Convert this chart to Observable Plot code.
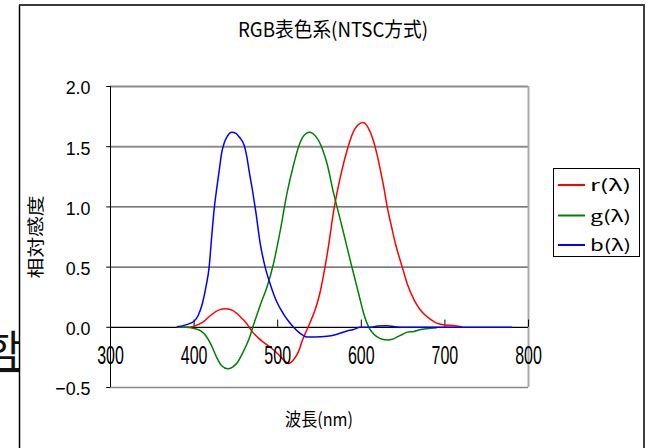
<!DOCTYPE html>
<html><head><meta charset="utf-8">
<script src="https://cdn.jsdelivr.net/npm/d3@7"></script>
<script src="https://cdn.jsdelivr.net/npm/@observablehq/plot@0.6"></script>
<style>
html,body{margin:0;padding:0;background:#fff;}
#wrap{position:relative;width:649px;height:448px;overflow:hidden;background:#fff;}
#chart{position:absolute;left:0;top:0;}
#over{position:absolute;left:0;top:0;}
</style></head><body>
<div id="wrap"><div id="chart"></div><svg id="over" width="649" height="448" xmlns="http://www.w3.org/2000/svg"></svg></div>
<script>
const title = "RGB表色系(NTSC方式)";
const xLabel = "波長(nm)";
const yLabel = "相対感度";
const sideText = "학";
const xTicks = [300, 400, 500, 600, 700, 800];
const yTicks = [-0.5, 0, 0.5, 1.0, 1.5, 2.0];
const seriesNames = ["r(λ)", "g(λ)", "b(λ)"];
const seriesColors = ["#ff0000", "#008000", "#0000ff"];

const rLambda = [380,390,400,410,420,430,438,446,455,463,470,477,484,492,500,507,513,519,525,530,535,540,545,550,555,560,567,575,583,589,596,602,608,614,619,623,627,631,636,641,649,655,663,670,675,682,690,700,710,720];
const rValue  = [0,0,0.01,0.04,0.10,0.145,0.155,0.14,0.09,0.03,-0.04,-0.09,-0.13,-0.17,-0.22,-0.27,-0.30,-0.27,-0.20,-0.10,-0.02,0.06,0.15,0.27,0.44,0.64,0.97,1.25,1.47,1.60,1.68,1.70,1.66,1.56,1.43,1.30,1.16,1.00,0.84,0.69,0.50,0.36,0.23,0.15,0.11,0.07,0.035,0.02,0.015,0.005];

const gLambda = [380,390,400,408,414,420,427,433,440,446,452,459,466,472,476,481,487,495,503,511,519,525,531,538,545,553,559,567,575,581,587,595,600,603,609,614,619,625,631,637,643,649,655,663,670,680,690];
const gValue  = [0,0,-0.01,-0.03,-0.07,-0.14,-0.25,-0.32,-0.345,-0.33,-0.29,-0.20,-0.09,0.04,0.12,0.22,0.33,0.53,0.80,1.11,1.35,1.50,1.59,1.62,1.59,1.49,1.36,1.11,0.89,0.72,0.55,0.33,0.19,0.11,0.0,-0.05,-0.08,-0.10,-0.105,-0.10,-0.08,-0.06,-0.04,-0.035,-0.02,-0.01,-0.003];

const bLambda = [380,390,400,405,410,414,418,421,424,427,430,433,436,440,445,450,454,460,463,466,470,474,479,485,491,499,507,513,519,525,530,535,545,559,570,583,590,599,610,620,630,640,650,700,780];
const bValue  = [0.005,0.02,0.05,0.10,0.20,0.33,0.50,0.75,0.98,1.15,1.30,1.45,1.53,1.59,1.62,1.61,1.58,1.51,1.42,1.29,1.13,0.95,0.70,0.50,0.36,0.21,0.11,0.05,0.0,-0.04,-0.065,-0.08,-0.08,-0.075,-0.06,-0.03,-0.02,0.0,0.0,0.01,0.012,0.005,0.0,0.0,0.0];

const rows = [];
[[rLambda, rValue], [gLambda, gValue], [bLambda, bValue]].forEach(([L, V], k) =>
  L.forEach((l, i) => rows.push({series: seriesNames[k], lambda: l, value: V[i]})));

const latin = "'Liberation Sans','Noto Sans CJK JP',sans-serif";
const cjk = "'Noto Sans CJK JP','Liberation Sans',sans-serif";

const chart = Plot.plot({
  width: 649, height: 448,
  marginLeft: 110, marginRight: 121, marginTop: 86, marginBottom: 61,
  x: {domain: [300, 800], axis: null},
  y: {domain: [-0.5, 2], axis: null},
  color: {domain: seriesNames, range: seriesColors},
  style: {background: "transparent", fontFamily: latin, color: "#000"},
  marks: [
    Plot.ruleY([2, 1.5], {stroke: "#8c8c8c", strokeWidth: 2}),
    Plot.ruleY([1, 0.5], {stroke: "#222", strokeWidth: 1}),
    Plot.ruleY([-0.5], {stroke: "#888", strokeWidth: 1.5}),
    Plot.ruleX([800], {y1: -0.5, y2: 2, stroke: "#aaa", strokeWidth: 2}),
    Plot.ruleX([300], {y1: -0.5, y2: 2, stroke: "#000", strokeWidth: 1}),
    Plot.ruleY(yTicks, {x1: 295.5, x2: 300, stroke: "#000"}),
    Plot.ruleY([0], {stroke: "#000", strokeWidth: 1.2}),
    Plot.ruleX(xTicks, {y1: 0, y2: 0.06, stroke: "#000"}),
    Plot.line(rows, {x: "lambda", y: "value", z: "series", stroke: "series", strokeWidth: 1.5, curve: "monotone-x"}),
    Plot.text(yTicks, {x: 300, y: d => d, text: d => d3.format(".1f")(d), textAnchor: "end", dx: -20, dy: 2, fontSize: 17, fill: "#000", ariaDescription: "ytl"}),
    Plot.text(xTicks, {x: d => d, y: 0, text: d => String(d), dy: 28, fontSize: 16, fill: "#000", ariaDescription: "xtl"})
  ]
});
document.getElementById("chart").appendChild(chart);

function stretch(sel, sx, sy) {
  chart.querySelectorAll(sel).forEach(t => {
    const tr = t.getAttribute("transform");
    if (tr) t.setAttribute("transform", tr + ` scale(${sx},${sy})`);
    else {
      const x = +t.getAttribute("x") || 0, y = +t.getAttribute("y") || 0;
      t.setAttribute("x", 0); t.setAttribute("y", 0);
      t.setAttribute("transform", `translate(${x},${y}) scale(${sx},${sy})`);
    }
  });
}
stretch('g[aria-description="xtl"] text', 1, 1.62);
stretch('g[aria-description="ytl"] text', 1.05, 1.1);

// overlay: frame, titles, legend
const ov = d3.select("#over");
const defs = ov.append("defs");
defs.append("clipPath").attr("id", "sideclip").append("rect").attr("x", 0).attr("y", 300).attr("width", 19).attr("height", 100);
ov.append("text").attr("clip-path", "url(#sideclip)")
  .attr("x", -16).attr("y", 365).attr("font-size", 41)
  .attr("font-family", "'Noto Sans CJK KR',sans-serif")
  .attr("text-decoration", "underline").attr("fill", "#111").text(sideText);

ov.append("line").attr("x1", 19.5).attr("x2", 19.5).attr("y1", 5).attr("y2", 448).attr("stroke", "#000").attr("stroke-width", 1.5);
ov.append("line").attr("x1", 644).attr("x2", 644).attr("y1", 5).attr("y2", 448).attr("stroke", "#000").attr("stroke-width", 1.5);
ov.append("line").attr("x1", 19).attr("x2", 645).attr("y1", 5).attr("y2", 5).attr("stroke", "#3a3a3a").attr("stroke-width", 2);

ov.append("text").attr("x", 333).attr("y", 36.5).attr("text-anchor", "middle")
  .attr("font-size", 20).attr("font-family", cjk).attr("fill", "#000")
  .attr("textLength", 190).attr("lengthAdjust", "spacingAndGlyphs").text(title);

ov.append("text").attr("x", 319).attr("y", 426).attr("text-anchor", "middle")
  .attr("font-size", 18).attr("font-family", cjk).attr("fill", "#000")
  .attr("textLength", 68).attr("lengthAdjust", "spacingAndGlyphs").text(xLabel);

ov.append("text").attr("transform", "translate(42,237) rotate(-90)").attr("text-anchor", "middle")
  .attr("font-size", 17).attr("font-family", cjk).attr("fill", "#000")
  .attr("textLength", 83).attr("lengthAdjust", "spacingAndGlyphs").text(yLabel);

// legend
ov.append("rect").attr("x", 553.5).attr("y", 168.5).attr("width", 86).attr("height", 88)
  .attr("fill", "#fff").attr("stroke", "#000").attr("stroke-width", 1);
const ly = [185, 215.5, 245];
seriesNames.forEach((name, i) => {
  ov.append("line").attr("x1", 558).attr("x2", 585).attr("y1", ly[i]).attr("y2", ly[i])
    .attr("stroke", seriesColors[i]).attr("stroke-width", 2);
  ov.append("text").attr("x", 590).attr("y", ly[i] + 6).attr("font-size", 16)
    .attr("font-family", cjk).attr("fill", "#000")
    .attr("textLength", 41).attr("lengthAdjust", "spacingAndGlyphs").text(name);
});
</script>
</body></html>
